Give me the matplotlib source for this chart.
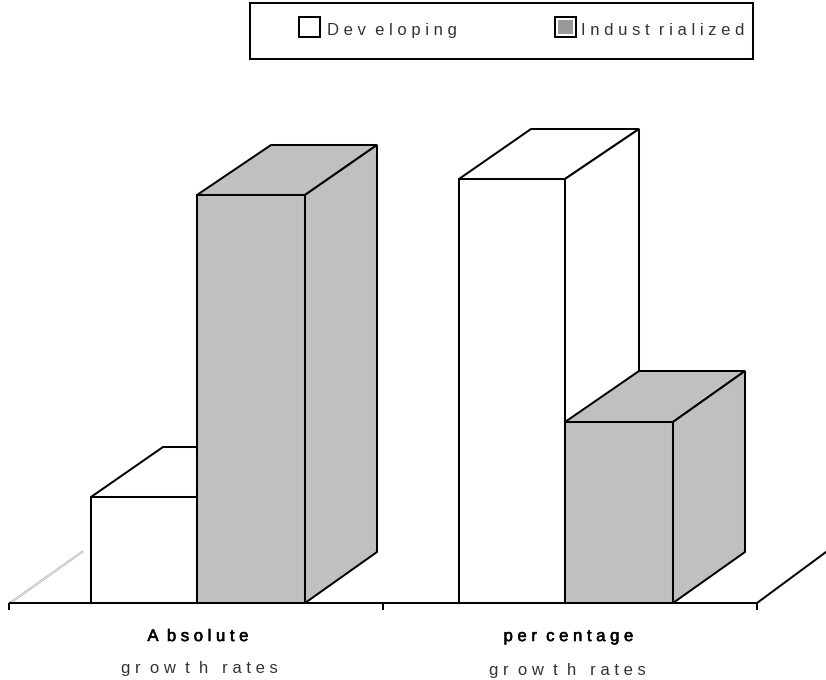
import matplotlib
matplotlib.use("Agg")
import matplotlib.pyplot as plt
import matplotlib.patheffects as pe
from matplotlib.patches import Polygon, Rectangle

plt.rcParams['font.family'] = ['Liberation Sans', 'DejaVu Sans']

# Chart data
categories = ["A  b s o l u t e", "p e r  c e n t a g e"]
subtitle = "g r  o w  t  h   r a t e s"
series_names = ["D e v  e l o p i n g", "I n d u s t  r i a l i z e d"]
developing = [106, 424]
industrialized = [408, 181]

# Layout, with one data unit equal to one pixel
W, H = 826, 680
BASE_Y = 603
group_left = [91, 459]
BAR_DEV = 106
BAR_IND = 108
DEPTH_OUTER, DEPTH_INNER = 72, 74
DEPTH_FLOOR = 51
depth_top_dev = [50, 50]
depth_top_ind = [50, 51]
LW = 1.45
GREY = "#c0c0c0"

fig = plt.figure(figsize=(W / 100, H / 100), dpi=100)
ax = fig.add_axes([0, 0, 1, 1])
ax.set_xlim(0, W)
ax.set_ylim(BASE_Y - H, BASE_Y)
ax.axis("off")


def bar3d(left, width, value, colour, z, dx_left, dx_right, dy_top):
    """Front face from ax.bar, with top and side faces offset in depth."""
    ax.bar(left, value, width=width, align="edge", facecolor=colour,
           edgecolor="black", linewidth=LW, zorder=z)
    r = left + width
    back = value + dy_top
    top = [(left, value), (r, value), (r + dx_right, back), (left + dx_left, back)]
    side = [(r, 0), (r + dx_right, DEPTH_FLOOR), (r + dx_right, back), (r, value)]
    for pts in (top, side):
        ax.add_patch(Polygon(pts, closed=True, facecolor=colour, edgecolor="black",
                             linewidth=LW, joinstyle="miter", zorder=z))


for i in range(len(categories)):
    bar3d(group_left[i], BAR_DEV, developing[i], "white", 2 + i * 2,
          DEPTH_OUTER, DEPTH_INNER, depth_top_dev[i])
    bar3d(group_left[i] + BAR_DEV, BAR_IND, industrialized[i], GREY, 3 + i * 2,
          DEPTH_INNER, DEPTH_OUTER, depth_top_ind[i])

# Floor: baseline, category ticks and receding edges
ax.plot([9, 757], [0, 0], color="black", lw=LW, zorder=10, solid_capstyle="butt")
for x in (9, 383, 757):
    ax.plot([x, x], [0, -7], color="black", lw=LW, zorder=10, solid_capstyle="butt")
ax.plot([757, 826], [0, 51], color="black", lw=LW, zorder=10)
ax.plot([10, 82], [0, 51], color="#b8b8b8", lw=1.6, zorder=1)
ax.plot([10, 82], [0, 51], color="white", lw=0.4, zorder=1)

# Category labels, the first line slightly heavier than the second
label_x = [198, 568.5]
sub_x = [199.5, 567.5]
sub_y = [-70, -72]
for i, cat in enumerate(categories):
    ax.text(label_x[i], -38, cat, ha="center", va="baseline", fontsize=12,
            color="black",
            path_effects=[pe.withStroke(linewidth=0.4, foreground="black")])
    ax.text(sub_x[i], sub_y[i], subtitle, ha="center", va="baseline", fontsize=12,
            color="#333333")

# Legend box
ax.add_patch(Rectangle((249.5, BASE_Y - 59), 503.5, 56, facecolor="white",
                       edgecolor="black", linewidth=LW, zorder=20))
ax.add_patch(Rectangle((299, BASE_Y - 37), 21, 20, facecolor="white",
                       edgecolor="black", linewidth=LW, zorder=21))
ax.add_patch(Rectangle((554.5, BASE_Y - 37), 21, 20, facecolor="white",
                       edgecolor="black", linewidth=LW, zorder=21))
ax.add_patch(Rectangle((557.5, BASE_Y - 34), 15, 14, facecolor="#999999",
                       edgecolor="none", zorder=22))
ax.text(327, BASE_Y - 35, series_names[0], ha="left", va="baseline", fontsize=12,
        color="#333333", zorder=22)
ax.text(581, BASE_Y - 35, series_names[1], ha="left", va="baseline", fontsize=12,
        color="#333333", zorder=22)

fig.savefig("out.png", dpi=100, facecolor="white")
